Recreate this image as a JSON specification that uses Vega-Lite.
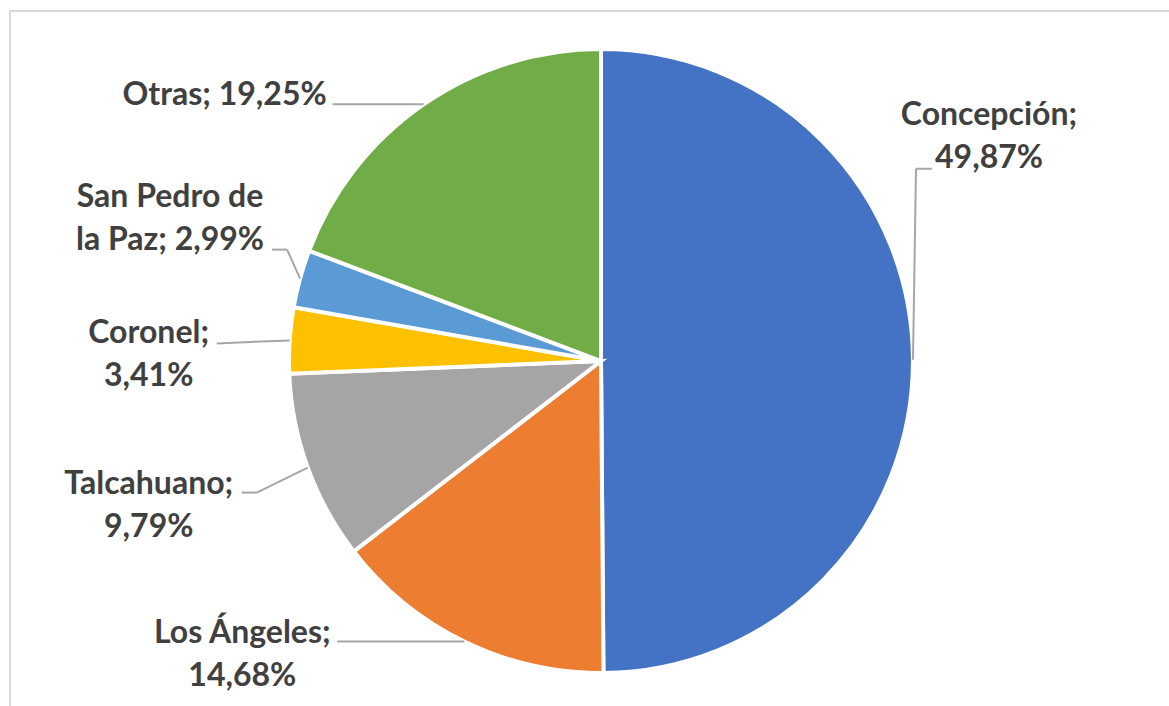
{
  "$schema": "https://vega.github.io/schema/vega-lite/v6.json",
  "width": 1169,
  "height": 706,
  "autosize": {"type": "fit", "contains": "padding"},
  "padding": {"left": 10, "top": 11, "right": -5, "bottom": -5},
  "background": "white",
  "config": {"view": {"stroke": "#D9D9D9", "strokeWidth": 2}},
  "data": {"values": [
    {"name": "Concepción", "value": 49.87, "label": "Concepción;\n49,87%"},
    {"name": "Los Ángeles", "value": 14.68, "label": "Los Ángeles;\n14,68%"},
    {"name": "Talcahuano", "value": 9.79, "label": "Talcahuano;\n9,79%"},
    {"name": "Coronel", "value": 3.41, "label": "Coronel;\n3,41%"},
    {"name": "San Pedro de la Paz", "value": 2.99, "label": "San Pedro de\nla Paz; 2,99%"},
    {"name": "Otras", "value": 19.25, "label": "Otras; 19,25%"}
  ]},
  "transform": [
    {"window": [{"op": "row_number", "as": "idx"}]},
    {"joinaggregate": [{"op": "sum", "field": "value", "as": "total"}]},
    {"window": [{"op": "sum", "field": "value", "as": "cum"}], "sort": [{"field": "idx"}], "frame": [null, 0]},
    {"calculate": "(datum.cum - datum.value/2)/datum.total*2*PI", "as": "mid"},
    {"calculate": "312*sin(datum.mid)", "as": "ex"},
    {"calculate": "312*cos(datum.mid)", "as": "ey"},
    {"calculate": "datum.ex + [3,-127,-51,-73,-13,-91][datum.idx-1]", "as": "bx"},
    {"calculate": "datum.ey - [-191,0,25,3,-29,0][datum.idx-1]", "as": "by"},
    {"calculate": "datum.ex + [19,-127,-66,-73,-28,-91][datum.idx-1]", "as": "lx"},
    {"calculate": "datum.ey - [-191,0,25,3,-29,0][datum.idx-1]", "as": "ly"},
    {"calculate": "datum.ex + [76,-222,-159,-141,-130,-199][datum.idx-1]", "as": "tx"},
    {"calculate": "datum.ey - [-235,1.5,26,2.5,-72,0.5][datum.idx-1]", "as": "ty"}
  ],
  "layer": [
    {
      "mark": {"type": "arc", "outerRadius": 312, "stroke": "white", "strokeWidth": 4},
      "encoding": {
        "theta": {"field": "value", "type": "quantitative", "stack": true},
        "order": {"field": "idx", "type": "quantitative"},
        "color": {"field": "name", "type": "nominal", "legend": null,
          "scale": {"domain": ["Concepción", "Los Ángeles", "Talcahuano", "Coronel", "San Pedro de la Paz", "Otras"],
                    "range": ["#4472C4", "#ED7D31", "#A5A5A5", "#FFC000", "#5B9BD5", "#70AD47"]}},
        "x": {"datum": 0, "type": "quantitative", "axis": null, "scale": {"domain": [-591, 573], "nice": false, "zero": false}},
        "y": {"datum": 0, "type": "quantitative", "axis": null, "scale": {"domain": [-350, 350], "nice": false, "zero": false}}
      }
    },
    {
      "mark": {"type": "rule", "color": "#A6A6A6", "strokeWidth": 2},
      "encoding": {
        "x": {"field": "ex", "type": "quantitative", "axis": null, "scale": {"domain": [-591, 573], "nice": false, "zero": false}},
        "y": {"field": "ey", "type": "quantitative", "axis": null, "scale": {"domain": [-350, 350], "nice": false, "zero": false}},
        "x2": {"field": "bx"},
        "y2": {"field": "by"}
      }
    },
    {
      "mark": {"type": "rule", "color": "#A6A6A6", "strokeWidth": 2},
      "encoding": {
        "x": {"field": "bx", "type": "quantitative", "axis": null, "scale": {"domain": [-591, 573], "nice": false, "zero": false}},
        "y": {"field": "by", "type": "quantitative", "axis": null, "scale": {"domain": [-350, 350], "nice": false, "zero": false}},
        "x2": {"field": "lx"},
        "y2": {"field": "ly"}
      }
    },
    {
      "mark": {"type": "text", "align": "center", "baseline": "alphabetic", "lineBreak": "\n", "font": "Lato", "fontSize": 32, "fontWeight": "bold", "color": "#404040", "lineHeight": 43},
      "encoding": {
        "x": {"field": "tx", "type": "quantitative", "axis": null, "scale": {"domain": [-591, 573], "nice": false, "zero": false}},
        "y": {"field": "ty", "type": "quantitative", "axis": null, "scale": {"domain": [-350, 350], "nice": false, "zero": false}},
        "text": {"field": "label"}
      }
    }
  ]
}
